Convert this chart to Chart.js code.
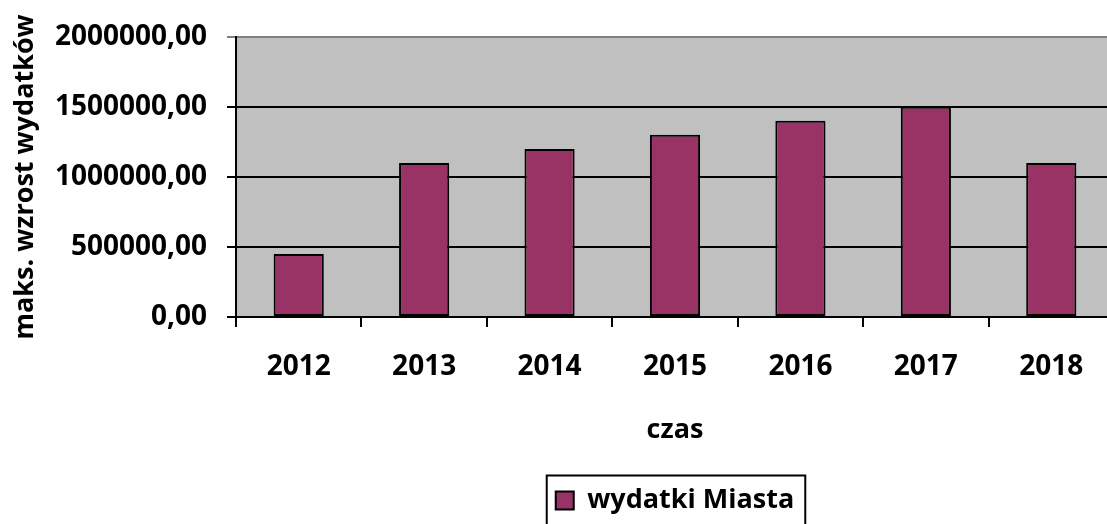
<!DOCTYPE html>
<html>
<head>
<meta charset="utf-8">
<script src="https://cdn.jsdelivr.net/npm/chart.js@4"></script>
<style>
  html, body { margin: 0; padding: 0; background: #fff; overflow: hidden; }
  #wrap { width: 1115px; height: 524px; }
</style>
</head>
<body>
<div id="wrap"><canvas id="myChart"></canvas></div>
<script>
// dane
const lata = ['2012', '2013', '2014', '2015', '2016', '2017', '2018'];
const wydatki = [450000, 1100000, 1200000, 1300000, 1400000, 1500000, 1100000];
const osY = { min: 0, max: 2000000, step: 500000 };

const FONT = 'Open Sans';

// szare tło obszaru wykresu + ramka legendy
const tloPlugin = {
  id: 'tlo',
  beforeDraw(chart) {
    const { ctx, chartArea: a } = chart;
    ctx.save();
    ctx.fillStyle = '#c0c0c0';
    ctx.fillRect(a.left, a.top, a.right - a.left, a.bottom - a.top);
    ctx.restore();
  },
  afterDraw(chart) {
    const box = chart.legend.legendHitBoxes[0];
    if (!box) return;
    const ctx = chart.ctx;
    ctx.save();
    ctx.strokeStyle = '#000';
    ctx.lineWidth = 2;
    ctx.strokeRect(box.left - 9, box.top + box.height / 2 - 25, box.width + 20, 52);
    ctx.restore();
  }
};

const ctx = document.getElementById('myChart').getContext('2d');
new Chart(ctx, {
  type: 'bar',
  data: {
    labels: lata,
    datasets: [{
      label: 'wydatki Miasta',
      data: wydatki,
      backgroundColor: '#993366',
      borderColor: '#000',
      borderWidth: 2,
      borderSkipped: false,
      categoryPercentage: 0.4,
      barPercentage: 1
    }]
  },
  options: {
    responsive: true,
    maintainAspectRatio: false,
    animation: false,
    layout: { padding: { top: 35, right: 1, left: 0, bottom: 0 } },
    scales: {
      x: {
        offset: true,
        border: { color: '#000', width: 2 },
        grid: { drawOnChartArea: false, drawTicks: true, tickLength: 10, color: '#000', lineWidth: 2, offset: true },
        ticks: { color: '#000', padding: 23, font: { family: FONT, size: 28, weight: 'bold' } },
        title: { display: true, text: 'czas', color: '#000', padding: { top: 0, bottom: 28 }, font: { family: FONT, size: 27, weight: 'bold' } },
        afterFit(s) { s.height = 158; }
      },
      y: {
        min: osY.min,
        max: osY.max,
        border: { color: '#000', width: 2 },
        grid: {
          color: c => c.tick && c.tick.value === osY.max ? '#808080' : '#000',
          lineWidth: 2,
          tickLength: 9
        },
        ticks: {
          stepSize: osY.step,
          color: '#000',
          padding: 20,
          font: { family: FONT, size: 28, weight: 'bold' },
          callback: v => v.toFixed(2).replace('.', ',')
        },
        title: { display: true, text: 'maks. wzrost wydatków', color: '#000', padding: { top: 9, bottom: 0 }, font: { family: FONT, size: 27, weight: 'bold' } },
        afterFit(s) { s.width = 236; }
      }
    },
    plugins: {
      legend: {
        position: 'bottom',
        fullSize: false,
        labels: {
          color: '#000',
          boxWidth: 18,
          boxHeight: 18,
          padding: 12,
          font: { family: FONT, size: 27, weight: 'bold' }
        }
      },
      tooltip: { enabled: false }
    }
  },
  plugins: [tloPlugin]
});
</script>
</body>
</html>
